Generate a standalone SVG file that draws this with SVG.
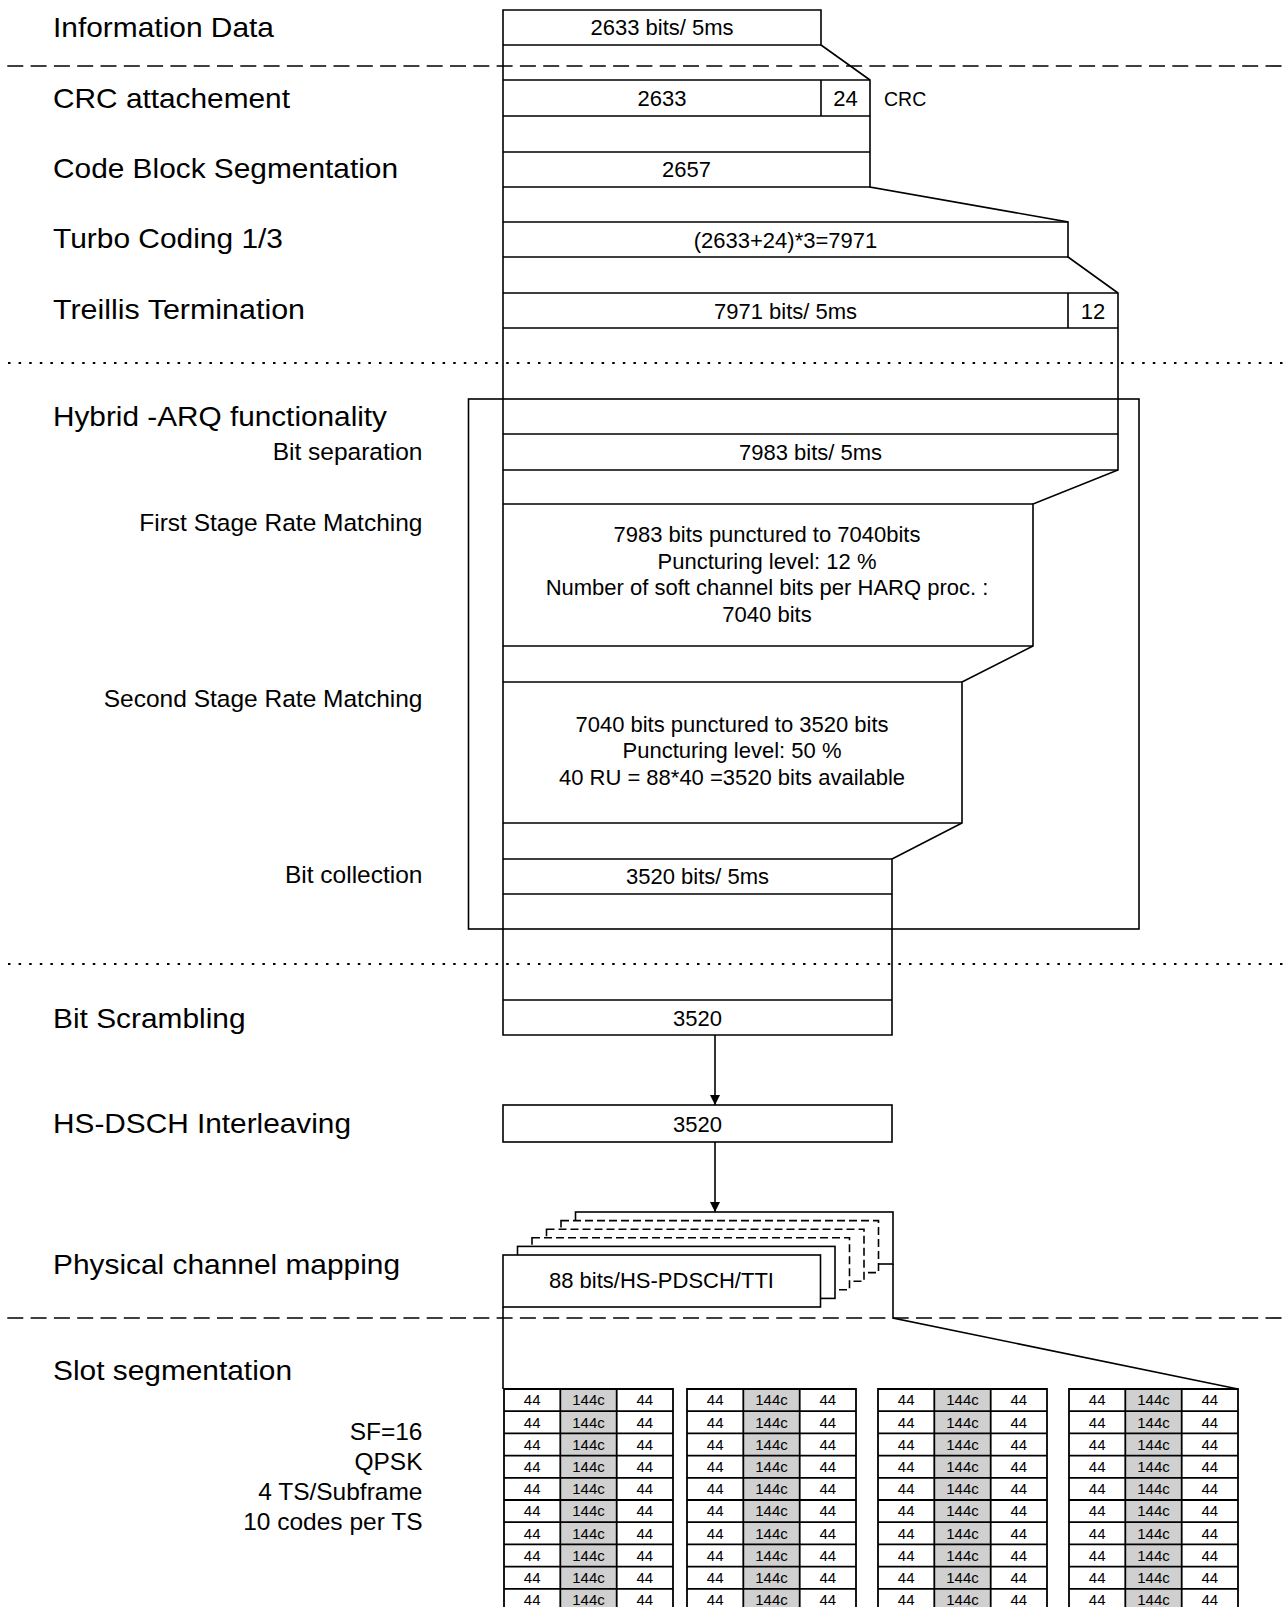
<svg xmlns="http://www.w3.org/2000/svg" width="1284" height="1607" viewBox="0 0 1284 1607">
<defs>
<style>
.ln{fill:none;stroke:#000;stroke-width:1.6}
.bx{fill:#fff;stroke:#000;stroke-width:1.6}
.bxd{fill:#fff;stroke:#000;stroke-width:1.6;stroke-dasharray:8 4}
.dash{stroke:#000;stroke-width:1.6;stroke-dasharray:16 7.3}
.dot{stroke:#000;stroke-width:2;stroke-dasharray:2.5 8.1}
.big{font-family:"Liberation Sans",Arial,sans-serif;font-size:27.5px;fill:#000}
.sm{font-family:"Liberation Sans",Arial,sans-serif;font-size:24.5px;fill:#000;text-anchor:end}
.bt{font-family:"Liberation Sans",Arial,sans-serif;font-size:22px;fill:#000;text-anchor:middle}
.ct{font-family:"Liberation Sans",Arial,sans-serif;font-size:15px;fill:#000;text-anchor:middle}
.grid{fill:none;stroke:#000;stroke-width:1.8}
.gray{fill:#d0d0d0}
</style>
<marker id="arr" viewBox="0 0 10 10" refX="10" refY="5" markerWidth="10" markerHeight="10" markerUnits="userSpaceOnUse" orient="auto">
<path d="M0,0 L10,5 L0,10 z" fill="#000"/>
</marker>
</defs>
<rect width="1284" height="1607" fill="#fff"/>

<g id="separators">
<line class="dash" x1="7.3" y1="66" x2="1284" y2="66"/>
<line class="dot" x1="8" y1="363" x2="1284" y2="363"/>
<line class="dot" x1="8" y1="964" x2="1284" y2="964"/>
<line class="dash" x1="7.3" y1="1318" x2="1284" y2="1318"/>
</g>

<g id="labels">
<text class="big" x="53" y="36.5" textLength="221" lengthAdjust="spacingAndGlyphs">Information Data</text>
<text class="big" x="53" y="107.5" textLength="237" lengthAdjust="spacingAndGlyphs">CRC attachement</text>
<text class="big" x="53" y="177.5" textLength="345" lengthAdjust="spacingAndGlyphs">Code Block Segmentation</text>
<text class="big" x="53" y="248" textLength="230" lengthAdjust="spacingAndGlyphs">Turbo Coding 1/3</text>
<text class="big" x="53" y="319" textLength="252" lengthAdjust="spacingAndGlyphs">Treillis Termination</text>
<text class="big" x="53" y="426" textLength="334" lengthAdjust="spacingAndGlyphs">Hybrid -ARQ functionality</text>
<text class="big" x="53" y="1027.5" textLength="192.5" lengthAdjust="spacingAndGlyphs">Bit Scrambling</text>
<text class="big" x="53" y="1132.5" textLength="298" lengthAdjust="spacingAndGlyphs">HS-DSCH Interleaving</text>
<text class="big" x="53" y="1274" textLength="347" lengthAdjust="spacingAndGlyphs">Physical channel mapping</text>
<text class="big" x="53" y="1379.5" textLength="239" lengthAdjust="spacingAndGlyphs">Slot segmentation</text>
<text class="sm" x="422.5" y="460">Bit separation</text>
<text class="sm" x="422.5" y="531">First Stage Rate Matching</text>
<text class="sm" x="422.5" y="706.5">Second Stage Rate Matching</text>
<text class="sm" x="422.5" y="883">Bit collection</text>
<text class="sm" x="422.5" y="1439.5">SF=16</text>
<text class="sm" x="422.5" y="1469.5">QPSK</text>
<text class="sm" x="422.5" y="1499.5">4 TS/Subframe</text>
<text class="sm" x="422.5" y="1529.5">10 codes per TS</text>
</g>

<g id="harq-frame">
<rect class="ln" x="468.5" y="399" width="670.5" height="530"/>
</g>

<g id="chain-column">
<path class="ln" d="M503,10 H821 V45 L870,80 V187 L1068,222 V257 L1118,293 V470 L1033,504 V646 L962,682 V823 L892,859 V1035 H503 Z"/>
<path class="ln" d="M503,45 H821 M503,80 H870 M503,116 H870 M821,80 V116 M503,152 H870 M503,187 H870 M503,222 H1068 M503,257 H1068 M503,293 H1118 M503,328 H1118 M1068,293 V328 M503,434 H1118 M503,470 H1118 M503,504 H1033 M503,646 H1033 M503,682 H962 M503,823 H962 M503,859 H892 M503,894 H892 M503,1000 H892"/>
</g>

<g id="node-info"><text class="bt" x="662" y="35.3">2633 bits/ 5ms</text></g>
<g id="node-crc">
<text class="bt" x="662" y="105.5">2633</text>
<text class="bt" x="845.5" y="105.5">24</text>
<text x="884" y="105.5" style="font-family:'Liberation Sans',Arial,sans-serif;font-size:19.5px">CRC</text>
</g>
<g id="node-seg"><text class="bt" x="686.5" y="177">2657</text></g>
<g id="node-turbo"><text class="bt" x="785.5" y="247.5">(2633+24)*3=7971</text></g>
<g id="node-treillis">
<text class="bt" x="785.5" y="318.5">7971 bits/ 5ms</text>
<text class="bt" x="1093" y="318.5">12</text>
</g>
<g id="node-bitsep"><text class="bt" x="810.5" y="459.5">7983 bits/ 5ms</text></g>
<g id="node-rm1">
<text class="bt" x="767" y="542">7983 bits punctured to 7040bits</text>
<text class="bt" x="767" y="568.7">Puncturing level: 12 %</text>
<text class="bt" x="767" y="595.4">Number of soft channel bits per HARQ proc. :</text>
<text class="bt" x="767" y="622.1">7040 bits</text>
</g>
<g id="node-rm2">
<text class="bt" x="732" y="731.7">7040 bits punctured to 3520 bits</text>
<text class="bt" x="732" y="758.4">Puncturing level: 50 %</text>
<text class="bt" x="732" y="785.1">40 RU = 88*40 =3520 bits available</text>
</g>
<g id="node-bitcol"><text class="bt" x="697.5" y="884">3520 bits/ 5ms</text></g>
<g id="node-scramble"><text class="bt" x="697.5" y="1025.5">3520</text></g>
<g id="node-interleave">
<rect class="bx" x="503" y="1105" width="389" height="37"/>
<text class="bt" x="697.5" y="1131.5">3520</text>
</g>

<g id="node-physmap">
<rect class="bx" x="575.5" y="1212" width="317.5" height="52"/>
<rect class="bxd" x="561" y="1220.6" width="317.5" height="52"/>
<rect class="bxd" x="546.5" y="1229.2" width="317.5" height="52"/>
<rect class="bxd" x="532" y="1237.8" width="317.5" height="52"/>
<rect class="bx" x="517.5" y="1246.4" width="317.5" height="52"/>
<rect class="bx" x="503" y="1255" width="317.5" height="52"/>
<text class="bt" x="661.5" y="1288">88 bits/HS-PDSCH/TTI</text>
</g>

<g id="connectors">
<line class="ln" x1="715" y1="1035" x2="715" y2="1105" marker-end="url(#arr)"/>
<line class="ln" x1="715" y1="1142" x2="715" y2="1212" marker-end="url(#arr)"/>
<path class="ln" d="M503,1307 V1389"/>
<path class="ln" d="M893,1264 V1318 L1238,1389"/>
</g>

<g id="slot-tables">
<rect class="gray" x="560.3" y="1389" width="56.3" height="222"/>
<rect class="gray" x="743.3" y="1389" width="56.3" height="222"/>
<rect class="gray" x="934.3" y="1389" width="56.3" height="222"/>
<rect class="gray" x="1125.3" y="1389" width="56.3" height="222"/>
<path class="grid" d="M504,1389 H673 V1611 H504 Z M560.3,1389 V1611 M616.7,1389 V1611 M687,1389 H856 V1611 H687 Z M743.3,1389 V1611 M799.7,1389 V1611 M878,1389 H1047 V1611 H878 Z M934.3,1389 V1611 M990.7,1389 V1611 M1069,1389 H1238 V1611 H1069 Z M1125.3,1389 V1611 M1181.7,1389 V1611"/>
<path class="grid" d="M504,1411.2 H673 M687,1411.2 H856 M878,1411.2 H1047 M1069,1411.2 H1238 M504,1433.4 H673 M687,1433.4 H856 M878,1433.4 H1047 M1069,1433.4 H1238 M504,1455.6 H673 M687,1455.6 H856 M878,1455.6 H1047 M1069,1455.6 H1238 M504,1477.8 H673 M687,1477.8 H856 M878,1477.8 H1047 M1069,1477.8 H1238 M504,1500 H673 M687,1500 H856 M878,1500 H1047 M1069,1500 H1238 M504,1522.2 H673 M687,1522.2 H856 M878,1522.2 H1047 M1069,1522.2 H1238 M504,1544.4 H673 M687,1544.4 H856 M878,1544.4 H1047 M1069,1544.4 H1238 M504,1566.6 H673 M687,1566.6 H856 M878,1566.6 H1047 M1069,1566.6 H1238 M504,1588.8 H673 M687,1588.8 H856 M878,1588.8 H1047 M1069,1588.8 H1238"/>
<g class="ct">
<text x="532.2" y="1405.4">44</text><text x="588.5" y="1405.4">144c</text><text x="644.8" y="1405.4">44</text>
<text x="715.2" y="1405.4">44</text><text x="771.5" y="1405.4">144c</text><text x="827.8" y="1405.4">44</text>
<text x="906.2" y="1405.4">44</text><text x="962.5" y="1405.4">144c</text><text x="1018.8" y="1405.4">44</text>
<text x="1097.2" y="1405.4">44</text><text x="1153.5" y="1405.4">144c</text><text x="1209.8" y="1405.4">44</text>
<text x="532.2" y="1427.6">44</text><text x="588.5" y="1427.6">144c</text><text x="644.8" y="1427.6">44</text>
<text x="715.2" y="1427.6">44</text><text x="771.5" y="1427.6">144c</text><text x="827.8" y="1427.6">44</text>
<text x="906.2" y="1427.6">44</text><text x="962.5" y="1427.6">144c</text><text x="1018.8" y="1427.6">44</text>
<text x="1097.2" y="1427.6">44</text><text x="1153.5" y="1427.6">144c</text><text x="1209.8" y="1427.6">44</text>
<text x="532.2" y="1449.8">44</text><text x="588.5" y="1449.8">144c</text><text x="644.8" y="1449.8">44</text>
<text x="715.2" y="1449.8">44</text><text x="771.5" y="1449.8">144c</text><text x="827.8" y="1449.8">44</text>
<text x="906.2" y="1449.8">44</text><text x="962.5" y="1449.8">144c</text><text x="1018.8" y="1449.8">44</text>
<text x="1097.2" y="1449.8">44</text><text x="1153.5" y="1449.8">144c</text><text x="1209.8" y="1449.8">44</text>
<text x="532.2" y="1472">44</text><text x="588.5" y="1472">144c</text><text x="644.8" y="1472">44</text>
<text x="715.2" y="1472">44</text><text x="771.5" y="1472">144c</text><text x="827.8" y="1472">44</text>
<text x="906.2" y="1472">44</text><text x="962.5" y="1472">144c</text><text x="1018.8" y="1472">44</text>
<text x="1097.2" y="1472">44</text><text x="1153.5" y="1472">144c</text><text x="1209.8" y="1472">44</text>
<text x="532.2" y="1494.2">44</text><text x="588.5" y="1494.2">144c</text><text x="644.8" y="1494.2">44</text>
<text x="715.2" y="1494.2">44</text><text x="771.5" y="1494.2">144c</text><text x="827.8" y="1494.2">44</text>
<text x="906.2" y="1494.2">44</text><text x="962.5" y="1494.2">144c</text><text x="1018.8" y="1494.2">44</text>
<text x="1097.2" y="1494.2">44</text><text x="1153.5" y="1494.2">144c</text><text x="1209.8" y="1494.2">44</text>
<text x="532.2" y="1516.4">44</text><text x="588.5" y="1516.4">144c</text><text x="644.8" y="1516.4">44</text>
<text x="715.2" y="1516.4">44</text><text x="771.5" y="1516.4">144c</text><text x="827.8" y="1516.4">44</text>
<text x="906.2" y="1516.4">44</text><text x="962.5" y="1516.4">144c</text><text x="1018.8" y="1516.4">44</text>
<text x="1097.2" y="1516.4">44</text><text x="1153.5" y="1516.4">144c</text><text x="1209.8" y="1516.4">44</text>
<text x="532.2" y="1538.6">44</text><text x="588.5" y="1538.6">144c</text><text x="644.8" y="1538.6">44</text>
<text x="715.2" y="1538.6">44</text><text x="771.5" y="1538.6">144c</text><text x="827.8" y="1538.6">44</text>
<text x="906.2" y="1538.6">44</text><text x="962.5" y="1538.6">144c</text><text x="1018.8" y="1538.6">44</text>
<text x="1097.2" y="1538.6">44</text><text x="1153.5" y="1538.6">144c</text><text x="1209.8" y="1538.6">44</text>
<text x="532.2" y="1560.8">44</text><text x="588.5" y="1560.8">144c</text><text x="644.8" y="1560.8">44</text>
<text x="715.2" y="1560.8">44</text><text x="771.5" y="1560.8">144c</text><text x="827.8" y="1560.8">44</text>
<text x="906.2" y="1560.8">44</text><text x="962.5" y="1560.8">144c</text><text x="1018.8" y="1560.8">44</text>
<text x="1097.2" y="1560.8">44</text><text x="1153.5" y="1560.8">144c</text><text x="1209.8" y="1560.8">44</text>
<text x="532.2" y="1583">44</text><text x="588.5" y="1583">144c</text><text x="644.8" y="1583">44</text>
<text x="715.2" y="1583">44</text><text x="771.5" y="1583">144c</text><text x="827.8" y="1583">44</text>
<text x="906.2" y="1583">44</text><text x="962.5" y="1583">144c</text><text x="1018.8" y="1583">44</text>
<text x="1097.2" y="1583">44</text><text x="1153.5" y="1583">144c</text><text x="1209.8" y="1583">44</text>
<text x="532.2" y="1605.2">44</text><text x="588.5" y="1605.2">144c</text><text x="644.8" y="1605.2">44</text>
<text x="715.2" y="1605.2">44</text><text x="771.5" y="1605.2">144c</text><text x="827.8" y="1605.2">44</text>
<text x="906.2" y="1605.2">44</text><text x="962.5" y="1605.2">144c</text><text x="1018.8" y="1605.2">44</text>
<text x="1097.2" y="1605.2">44</text><text x="1153.5" y="1605.2">144c</text><text x="1209.8" y="1605.2">44</text>
</g>
</g>
</svg>
